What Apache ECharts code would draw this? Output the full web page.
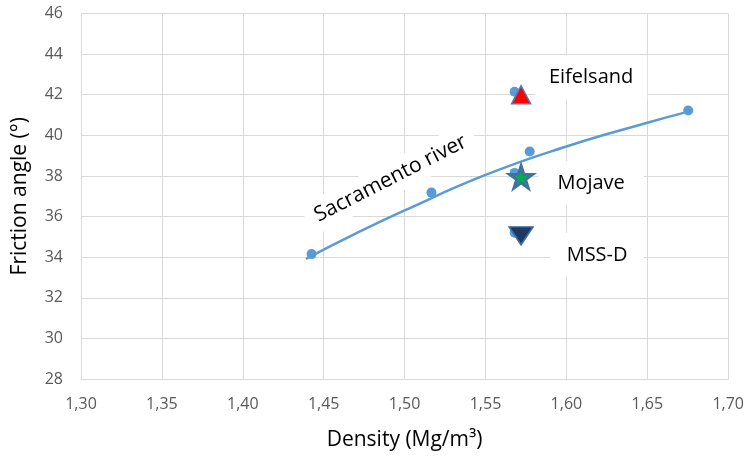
<!DOCTYPE html>
<html>
<head>
<meta charset="utf-8">
<script src="https://cdn.jsdelivr.net/npm/echarts@6/dist/echarts.min.js"></script>
<style>
  html, body { margin: 0; padding: 0; background: #fff; }
  #chart { width: 747px; height: 456px; }
</style>
</head>
<body>
<div id="chart"></div>
<script>
// Sacramento river sand: density (Mg/m3) vs friction angle (deg)
const sacramentoDensity = [1.4425, 1.5166, 1.5773, 1.6753];
const sacramentoAngle   = [34.15, 37.18, 39.2, 41.22];

// Reference points for the other sands (blue dots under the symbols)
const refDensity = [1.568, 1.568, 1.568];
const refAngle   = [42.15, 38.15, 35.2];

// Named sands
const sandNames   = ['Eifelsand', 'Mojave', 'MSS-D'];
const sandDensity = [1.572, 1.572, 1.572];
const sandAngle   = [42.0, 37.95, 35.05];

// Trend curve through the Sacramento data
const trendDensity = [1.439, 1.47, 1.50, 1.55, 1.60, 1.65, 1.673];
const trendAngle   = [33.92, 35.17, 36.3, 38.05, 39.45, 40.62, 41.12];

// Axis ticks
const xMin = 1.30, xMax = 1.70, xStep = 0.05;
const yMin = 28, yMax = 46, yStep = 2;

const zip = (a, b) => a.map((v, i) => [v, b[i]]);

const FONT = 'Open Sans';
const starPath = 'path://M50,0 L61.8,35.4 L99,35.4 L69,57.3 L80.3,92.7 L50,70.8 L19.7,92.7 L31,57.3 L1,35.4 L38.2,35.4 Z';

const boxLabel = (offset, pad) => ({
  show: true,
  formatter: '{b}',
  position: 'inside',
  offset: offset,
  color: '#000',
  fontFamily: FONT,
  fontSize: 20,
  backgroundColor: '#fff',
  padding: pad
});

const chart = echarts.init(document.getElementById('chart'), null, { renderer: 'canvas' });

chart.setOption({
  animation: false,
  grid: { left: 81, right: 18.5, top: 13.5, bottom: 75.3, containLabel: false },
  xAxis: {
    type: 'value',
    min: xMin, max: xMax, interval: xStep,
    name: 'Density (Mg/m³)',
    nameLocation: 'middle',
    nameGap: 51,
    nameTextStyle: { color: '#000', fontFamily: FONT, fontSize: 21 },
    axisLine: { show: true, lineStyle: { color: '#d9d9d9', width: 1 } },
    axisTick: { show: false },
    splitLine: { show: true, lineStyle: { color: '#d9d9d9', width: 1 } },
    axisLabel: {
      color: '#595959', fontFamily: FONT, fontSize: 16, margin: 17,
      formatter: v => v.toFixed(2).replace('.', ',')
    }
  },
  yAxis: {
    type: 'value',
    min: yMin, max: yMax, interval: yStep,
    name: 'Friction angle (°)',
    nameLocation: 'middle',
    nameGap: 50,
    nameTextStyle: { color: '#000', fontFamily: FONT, fontSize: 21 },
    axisLine: { show: true, lineStyle: { color: '#d9d9d9', width: 1 } },
    axisTick: { show: false },
    splitLine: { show: true, lineStyle: { color: '#d9d9d9', width: 1 } },
    axisLabel: { color: '#595959', fontFamily: FONT, fontSize: 16, margin: 18 }
  },
  series: [
    {
      name: 'Trend',
      type: 'line',
      data: zip(trendDensity, trendAngle),
      smooth: true,
      showSymbol: false,
      lineStyle: { color: '#5b9bd5', width: 2.5 },
      z: 2
    },
    {
      name: 'Sacramento river',
      type: 'scatter',
      symbol: 'circle',
      symbolSize: 10,
      itemStyle: { color: '#5b9bd5', opacity: 1 },
      data: zip(sacramentoDensity, sacramentoAngle).map((p, i) => {
        const item = { value: p, name: 'Sacramento river' };
        if (i === 1) {
          item.label = {
            show: true,
            formatter: '{b}',
            position: 'inside',
            rotate: 27,
            offset: [-30, -31],
            color: '#000',
            fontFamily: FONT,
            fontSize: 21,
            backgroundColor: '#fff',
            padding: [6, 10]
          };
        }
        return item;
      }),
      z: 3
    },
    {
      name: 'Reference',
      type: 'scatter',
      symbol: 'circle',
      symbolSize: 10,
      itemStyle: { color: '#5b9bd5', opacity: 1 },
      data: zip(refDensity, refAngle),
      z: 3
    },
    {
      name: sandNames[0],
      type: 'scatter',
      symbol: 'triangle',
      symbolSize: [19, 18],
      itemStyle: { color: '#ff0000', borderColor: '#4a7ebb', borderWidth: 1.5, opacity: 1 },
      label: boxLabel([70, -17], [12, 14]),
      data: [{ value: [sandDensity[0], sandAngle[0]], name: sandNames[0] }],
      z: 4
    },
    {
      name: sandNames[1],
      type: 'scatter',
      symbol: starPath,
      symbolSize: [23, 22],
      itemStyle: { color: '#00b050', borderColor: '#41719c', borderWidth: 3, opacity: 1 },
      label: boxLabel([70, 6], [12, 19]),
      data: [{ value: [sandDensity[1], sandAngle[1]], name: sandNames[1] }],
      z: 4
    },
    {
      name: sandNames[2],
      type: 'scatter',
      symbol: 'triangle',
      symbolRotate: 180,
      symbolSize: [24, 18],
      itemStyle: { color: '#1f3864', borderColor: '#41719c', borderWidth: 1.5, opacity: 1 },
      label: boxLabel([76, 19], [12, 16]),
      data: [{ value: [sandDensity[2], sandAngle[2]], name: sandNames[2] }],
      z: 4
    }
  ]
});
</script>
</body>
</html>
